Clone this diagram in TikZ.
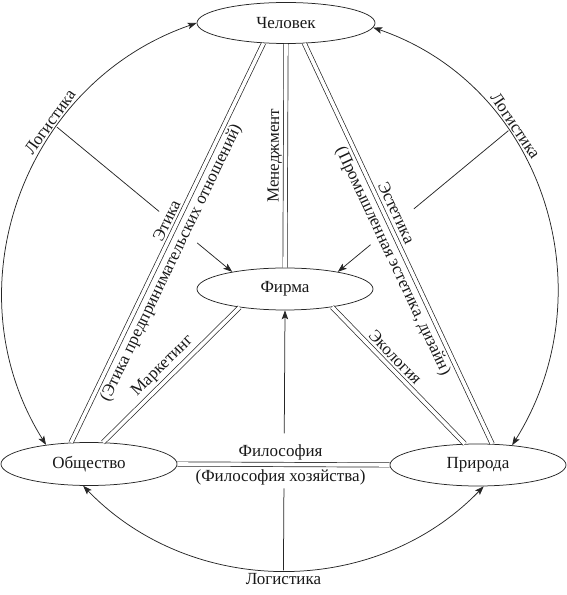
\documentclass[tikz,border=0pt]{standalone}
\usepackage{fontspec}
\setmainfont{Liberation Serif}
\usetikzlibrary{arrows.meta,calc,shapes.geometric}
\begin{document}
\begin{tikzpicture}[x=1pt,y=1pt,
  lbl/.style={font=\fontsize{17}{19}\selectfont, text=black!90, inner sep=1.5pt},
  ell/.style={draw=black!85, ellipse, line width=0.75pt, minimum width=176pt,
    minimum height=42pt, inner sep=0pt, font=\fontsize{17}{19}\selectfont, text=black!90},
  dbl/.style={draw=black!85, double, double distance=3.6pt, line width=0.7pt},
  thinln/.style={draw=black!85, line width=0.75pt},
  tip/.tip={Stealth[length=9pt,width=6.5pt,inset=2pt]},
  arr/.style={thinln, -tip},
  darr/.style={thinln, tip-tip}
]
\useasboundingbox (0,0) rectangle (567,595);

% ellipses
\node[ell, minimum width=178pt, minimum height=41pt] (chel) at (286,572) {Человек};
\node[ell] (firma) at (285,306) {Фирма};
\node[ell, minimum height=43pt] (obs) at (89,131) {Общество};
\node[ell] (pri) at (478,130) {Природа};

% outer logistics arcs
\draw[darr] (obs.156) to[out=122, in=199, looseness=1.05]
  node[lbl, sloped, above=1pt, pos=0.66] {Логистика}
  coordinate[pos=0.66] (la) (chel.west);
\draw[darr] (chel.-3) to[out=-19, in=58, looseness=1.05]
  node[lbl, sloped, above=1pt, pos=0.34] {Логистика}
  coordinate[pos=0.34] (ra) (pri.30);
\draw[darr] (obs.255) to[out=-46, in=226]
  coordinate[pos=0.5] (ba) (pri.-75);
\node[lbl, anchor=north] (blog) at ([yshift=-1pt]ba) {Логистика};

% double connectors
\draw[dbl] (firma.north) -- node[lbl, sloped, above=1.5pt, pos=0.5] {Менеджмент} (chel.south);
\draw[dbl] (obs.130) --
  node[lbl, sloped, above=3pt, pos=0.545] {Этика}
  node[lbl, sloped, below=3pt, pos=0.463] {(Этика предпринимательских отношений)}
  (chel.222);
\draw[dbl] (obs.57) -- node[lbl, sloped, above=3pt, pos=0.5] {Маркетинг} (firma.202);
\draw[dbl] (chel.-48) --
  node[lbl, sloped, above=4pt, pos=0.435] {Эстетика}
  node[lbl, sloped, below=3pt, pos=0.531] {(Промышленная эстетика, дизайн)}
  (pri.56);
\draw[dbl] (firma.-21) -- node[lbl, sloped, above=3pt, pos=0.42] {Экология} (pri.122);
\draw[dbl] (obs.east) --
  node[lbl, above=3pt, pos=0.486] {Философия}
  node[lbl, below=3pt, pos=0.486] {(Философия хозяйства)}
  (pri.west);

% thin lines into the firm
\coordinate (la1) at ($(la)!0.583!(firma.162)$);
\coordinate (la2) at ($(la)!0.8!(firma.162)$);
\draw[thinln] (la) -- (la1);
\draw[arr] (la2) -- (firma.162);

\coordinate (ra1) at ($(ra)!0.554!(firma.18)$);
\coordinate (ra2) at ($(ra)!0.808!(firma.18)$);
\draw[thinln] (ra) -- (ra1);
\draw[arr] (ra2) -- (firma.18);

\coordinate (ba1) at ($(ba)!0.315!(firma.south)$);
\coordinate (ba2) at ($(ba)!0.527!(firma.south)$);
\draw[thinln] (ba) -- (ba1);
\draw[arr] (ba2) -- (firma.south);
\end{tikzpicture}
\end{document}
